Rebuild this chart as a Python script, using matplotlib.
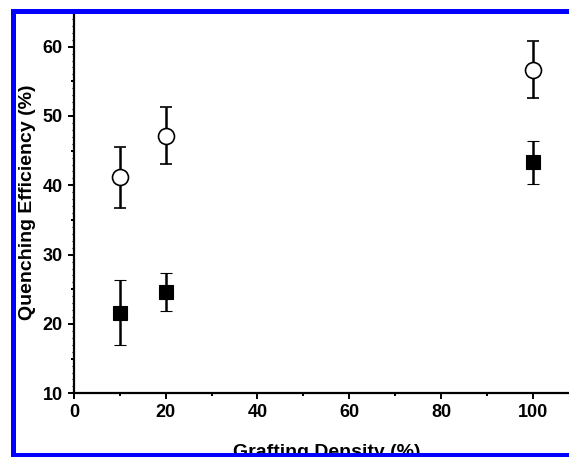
import matplotlib
matplotlib.use("Agg")
import matplotlib.pyplot as plt
from matplotlib.ticker import MultipleLocator, NullFormatter
from matplotlib.patches import Rectangle

# Data
grafting_density = [10, 20, 100]
open_vals = [41.15, 47.15, 56.7]
open_err = [4.4, 4.1, 4.05]
filled_vals = [21.65, 24.65, 43.3]
filled_err = [4.7, 2.75, 3.05]
x_label = "Grafting Density (%)"
y_label = "Quenching Efficiency (%)"

W, H = 569, 457
fig = plt.figure(figsize=(W / 100, H / 100), dpi=100)
plt.rcParams['font.family'] = ['Liberation Sans', 'DejaVu Sans']

ax_l, ax_r = 74, 578.6
ax_t, ax_b = 12.0, 393.3
ax = fig.add_axes([ax_l / W, 1 - ax_b / H, (ax_r - ax_l) / W, (ax_b - ax_t) / H])

ax.errorbar(grafting_density, open_vals, yerr=open_err, fmt='o', ms=11.5,
            mfc='white', mec='black', mew=1.2, ecolor='black', elinewidth=1.8,
            capsize=4.5, capthick=1.8, color='black', zorder=3)
ax.errorbar(grafting_density, filled_vals, yerr=filled_err, fmt='s', ms=10,
            mfc='black', mec='black', mew=0.8, ecolor='black', elinewidth=1.8,
            capsize=4.5, capthick=1.8, color='black', zorder=3)

ax.set_xlim(0, 110)
ax.set_ylim(10, 65)
for s in ['top', 'right']:
    ax.spines[s].set_visible(False)
for s in ['left', 'bottom']:
    ax.spines[s].set_linewidth(1.6)

ax.xaxis.set_major_locator(MultipleLocator(20))
ax.xaxis.set_minor_locator(MultipleLocator(10))
ax.yaxis.set_major_locator(MultipleLocator(10))
ax.yaxis.set_minor_locator(MultipleLocator(1))
ax.tick_params(axis='both', which='major', direction='out', length=4.5,
               width=1.4, labelsize=13, pad=3.5)
ax.tick_params(axis='x', which='minor', direction='out', length=2.5, width=1.4)
ax.tick_params(axis='y', which='minor', direction='out', length=1.3, width=0.8)
for lab in ax.get_xticklabels() + ax.get_yticklabels():
    lab.set_fontweight('bold')

# medium ticks at every 5 on y
sec = ax.secondary_yaxis('left')
sec.set_yticks([15, 25, 35, 45, 55])
sec.yaxis.set_major_formatter(NullFormatter())
sec.tick_params(axis='y', direction='out', length=2.5, width=1.4)
sec.spines['left'].set_visible(False)

ax.set_xlabel(x_label, fontsize=14, fontweight='bold', labelpad=16)
ax.set_ylabel(y_label, fontsize=14, fontweight='bold', labelpad=5)

# blue frame
blue = '#0000ff'
def rect(x0, y0, w, h):
    fig.patches.append(Rectangle((x0 / W, 1 - (y0 + h) / H), w / W, h / H,
                                 transform=fig.transFigure, facecolor=blue,
                                 edgecolor='none', zorder=10))
rect(11, 9, 5, H - 9)
rect(11, 9, W - 11, 5)
rect(11, 453, W - 11, 4)

fig.savefig("out.png", dpi=100)
